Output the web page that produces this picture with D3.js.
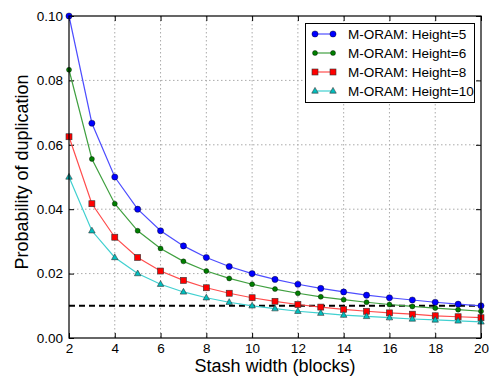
<!DOCTYPE html>
<html>
<head>
<meta charset="utf-8">
<script src="https://cdn.jsdelivr.net/npm/d3@7"></script>
<style>
  body { margin: 0; background: #fff; }
  text { font-family: "Liberation Sans", Arial, sans-serif; }
</style>
</head>
<body>
<div class="chart"></div>
<script>
var stashWidth = [2, 3, 4, 5, 6, 7, 8, 9, 10, 11, 12, 13, 14, 15, 16, 17, 18, 19, 20];
var height5 = [0.1, 0.0667, 0.05, 0.04, 0.0333, 0.0286, 0.025, 0.0222, 0.02, 0.0182, 0.0167, 0.0154, 0.0143, 0.0133, 0.0125, 0.0118, 0.0111, 0.0105, 0.01];
var height6 = [0.0833, 0.0556, 0.0417, 0.0333, 0.0278, 0.0238, 0.0208, 0.0185, 0.0167, 0.0152, 0.0139, 0.0128, 0.0119, 0.0111, 0.0104, 0.0098, 0.0093, 0.0088, 0.0083];
var height8 = [0.0625, 0.0417, 0.0313, 0.025, 0.0208, 0.0179, 0.0156, 0.0139, 0.0125, 0.0114, 0.0104, 0.0096, 0.0089, 0.0083, 0.0078, 0.0074, 0.0069, 0.0066, 0.0063];
var height10 = [0.05, 0.0333, 0.025, 0.02, 0.0167, 0.0143, 0.0125, 0.0111, 0.01, 0.0091, 0.0083, 0.0077, 0.0071, 0.0067, 0.0063, 0.0059, 0.0056, 0.0053, 0.005];
var threshold = 0.01;
var xTicks = [2, 4, 6, 8, 10, 12, 14, 16, 18, 20];
var yTicks = [0, 0.02, 0.04, 0.06, 0.08, 0.10];

var series = [
  {name: 'M-ORAM: Height=5', values: height5, color: '#0000ff', line: '#4d4dff', marker: 'circle', size: 3.1},
  {name: 'M-ORAM: Height=6', values: height6, color: '#007f00', line: '#40a040', marker: 'circle', size: 2.5},
  {name: 'M-ORAM: Height=8', values: height8, color: '#ff0000', line: '#ff4d4d', marker: 'square', size: 3},
  {name: 'M-ORAM: Height=10', values: height10, color: '#00bfbf', line: '#40d0d0', marker: 'triangle', size: 3.6}
];

var W = 489, H = 376;
var margin = {top: 16, right: 8, bottom: 38, left: 69};
var width = W - margin.left - margin.right,
    height = H - margin.top - margin.bottom;

var svg = d3.select('.chart').append('svg')
  .attr('width', W)
  .attr('height', H);
var g = svg.append('g')
  .attr('transform', 'translate(' + margin.left + ',' + margin.top + ')');

var x = d3.scaleLinear().domain([2, 20]).range([0, width]);
var y = d3.scaleLinear().domain([0, 0.10]).range([height, 0]);

// grid
g.append('g').selectAll('line').data(xTicks.slice(1, -1)).enter().append('line')
  .attr('x1', function(d) { return x(d); }).attr('x2', function(d) { return x(d); })
  .attr('y1', 0).attr('y2', height)
  .attr('stroke', '#aaa').attr('stroke-width', 1).attr('stroke-dasharray', '1.5,2.5');
g.append('g').selectAll('line').data(yTicks.slice(1, -1)).enter().append('line')
  .attr('y1', function(d) { return y(d); }).attr('y2', function(d) { return y(d); })
  .attr('x1', 0).attr('x2', width)
  .attr('stroke', '#aaa').attr('stroke-width', 1).attr('stroke-dasharray', '1.5,2.5');

// axes (ticks inside, on all sides)
function styleAxis(sel) {
  sel.select('.domain').remove();
  sel.selectAll('text').style('font-size', '13.5px').attr('fill', '#000');
  sel.selectAll('line').attr('stroke', '#000');
}
g.append('g').attr('transform', 'translate(0,' + height + ')')
  .call(d3.axisBottom(x).tickValues(xTicks).tickSizeInner(-5).tickSizeOuter(0).tickPadding(5).tickFormat(d3.format('d')))
  .call(styleAxis);
g.append('g')
  .call(d3.axisTop(x).tickValues(xTicks).tickSizeInner(-5).tickSizeOuter(0).tickFormat(''))
  .call(styleAxis);
g.append('g')
  .call(d3.axisLeft(y).tickValues(yTicks).tickSizeInner(-5).tickSizeOuter(0).tickPadding(6).tickFormat(d3.format('.2f')))
  .call(styleAxis);
g.append('g').attr('transform', 'translate(' + width + ',0)')
  .call(d3.axisRight(y).tickValues(yTicks).tickSizeInner(-5).tickSizeOuter(0).tickFormat(''))
  .call(styleAxis);

var plot = g.append('g');

// threshold line
plot.append('line')
  .attr('x1', x(2)).attr('x2', x(20))
  .attr('y1', y(threshold)).attr('y2', y(threshold))
  .attr('stroke', '#000').attr('stroke-width', 2).attr('stroke-dasharray', '6,4');

var line = d3.line()
  .x(function(d, i) { return x(stashWidth[i]); })
  .y(function(d) { return y(d); });

function drawMarker(sel, s, cx, cy) {
  if (s.marker === 'circle') {
    sel.append('circle').attr('cx', cx).attr('cy', cy).attr('r', s.size)
      .attr('fill', s.color).attr('stroke', '#000').attr('stroke-width', 0.4);
  } else if (s.marker === 'square') {
    sel.append('rect').attr('x', cx - s.size).attr('y', cy - s.size)
      .attr('width', s.size * 2).attr('height', s.size * 2)
      .attr('fill', s.color).attr('stroke', '#333').attr('stroke-width', 0.6);
  } else {
    var r = s.size;
    sel.append('path')
      .attr('d', 'M' + cx + ',' + (cy - r) + 'L' + (cx + r * 0.9) + ',' + (cy + r * 0.6) + 'L' + (cx - r * 0.9) + ',' + (cy + r * 0.6) + 'Z')
      .attr('fill', s.color).attr('stroke', '#333').attr('stroke-width', 0.6);
  }
}

series.forEach(function(s) {
  plot.append('path')
    .datum(s.values)
    .attr('fill', 'none')
    .attr('stroke', s.line)
    .attr('stroke-width', 1.2)
    .attr('d', line);
});
series.forEach(function(s) {
  var mg = plot.append('g');
  s.values.forEach(function(v, i) {
    drawMarker(mg, s, x(stashWidth[i]), y(v));
  });
});

// frame
g.append('rect').attr('width', width).attr('height', height)
  .attr('fill', 'none').attr('stroke', '#000').attr('stroke-width', 1.2);

// axis labels
svg.append('text')
  .attr('x', margin.left + width / 2).attr('y', 372)
  .attr('text-anchor', 'middle').style('font-size', '18px')
  .text('Stash width (blocks)');
svg.append('text')
  .attr('transform', 'translate(28,' + (margin.top + height / 2 - 5) + ') rotate(-90)')
  .attr('text-anchor', 'middle').style('font-size', '18px')
  .text('Probability of duplication');

// legend
var legend = svg.append('g').attr('class', 'legend');
legend.append('rect')
  .attr('x', 305.5).attr('y', 23.5).attr('width', 169).attr('height', 79)
  .attr('fill', '#fff').attr('stroke', '#000').attr('stroke-width', 1);
series.forEach(function(s, i) {
  var ly = 34 + i * 19;
  legend.append('line').attr('x1', 315).attr('x2', 333).attr('y1', ly).attr('y2', ly)
    .attr('stroke', s.line).attr('stroke-width', 1.2);
  drawMarker(legend, s, 315, ly);
  drawMarker(legend, s, 333, ly);
  legend.append('text').attr('x', 348).attr('y', ly + 5)
    .style('font-size', '13.5px').text(s.name);
});
</script>
</body>
</html>
